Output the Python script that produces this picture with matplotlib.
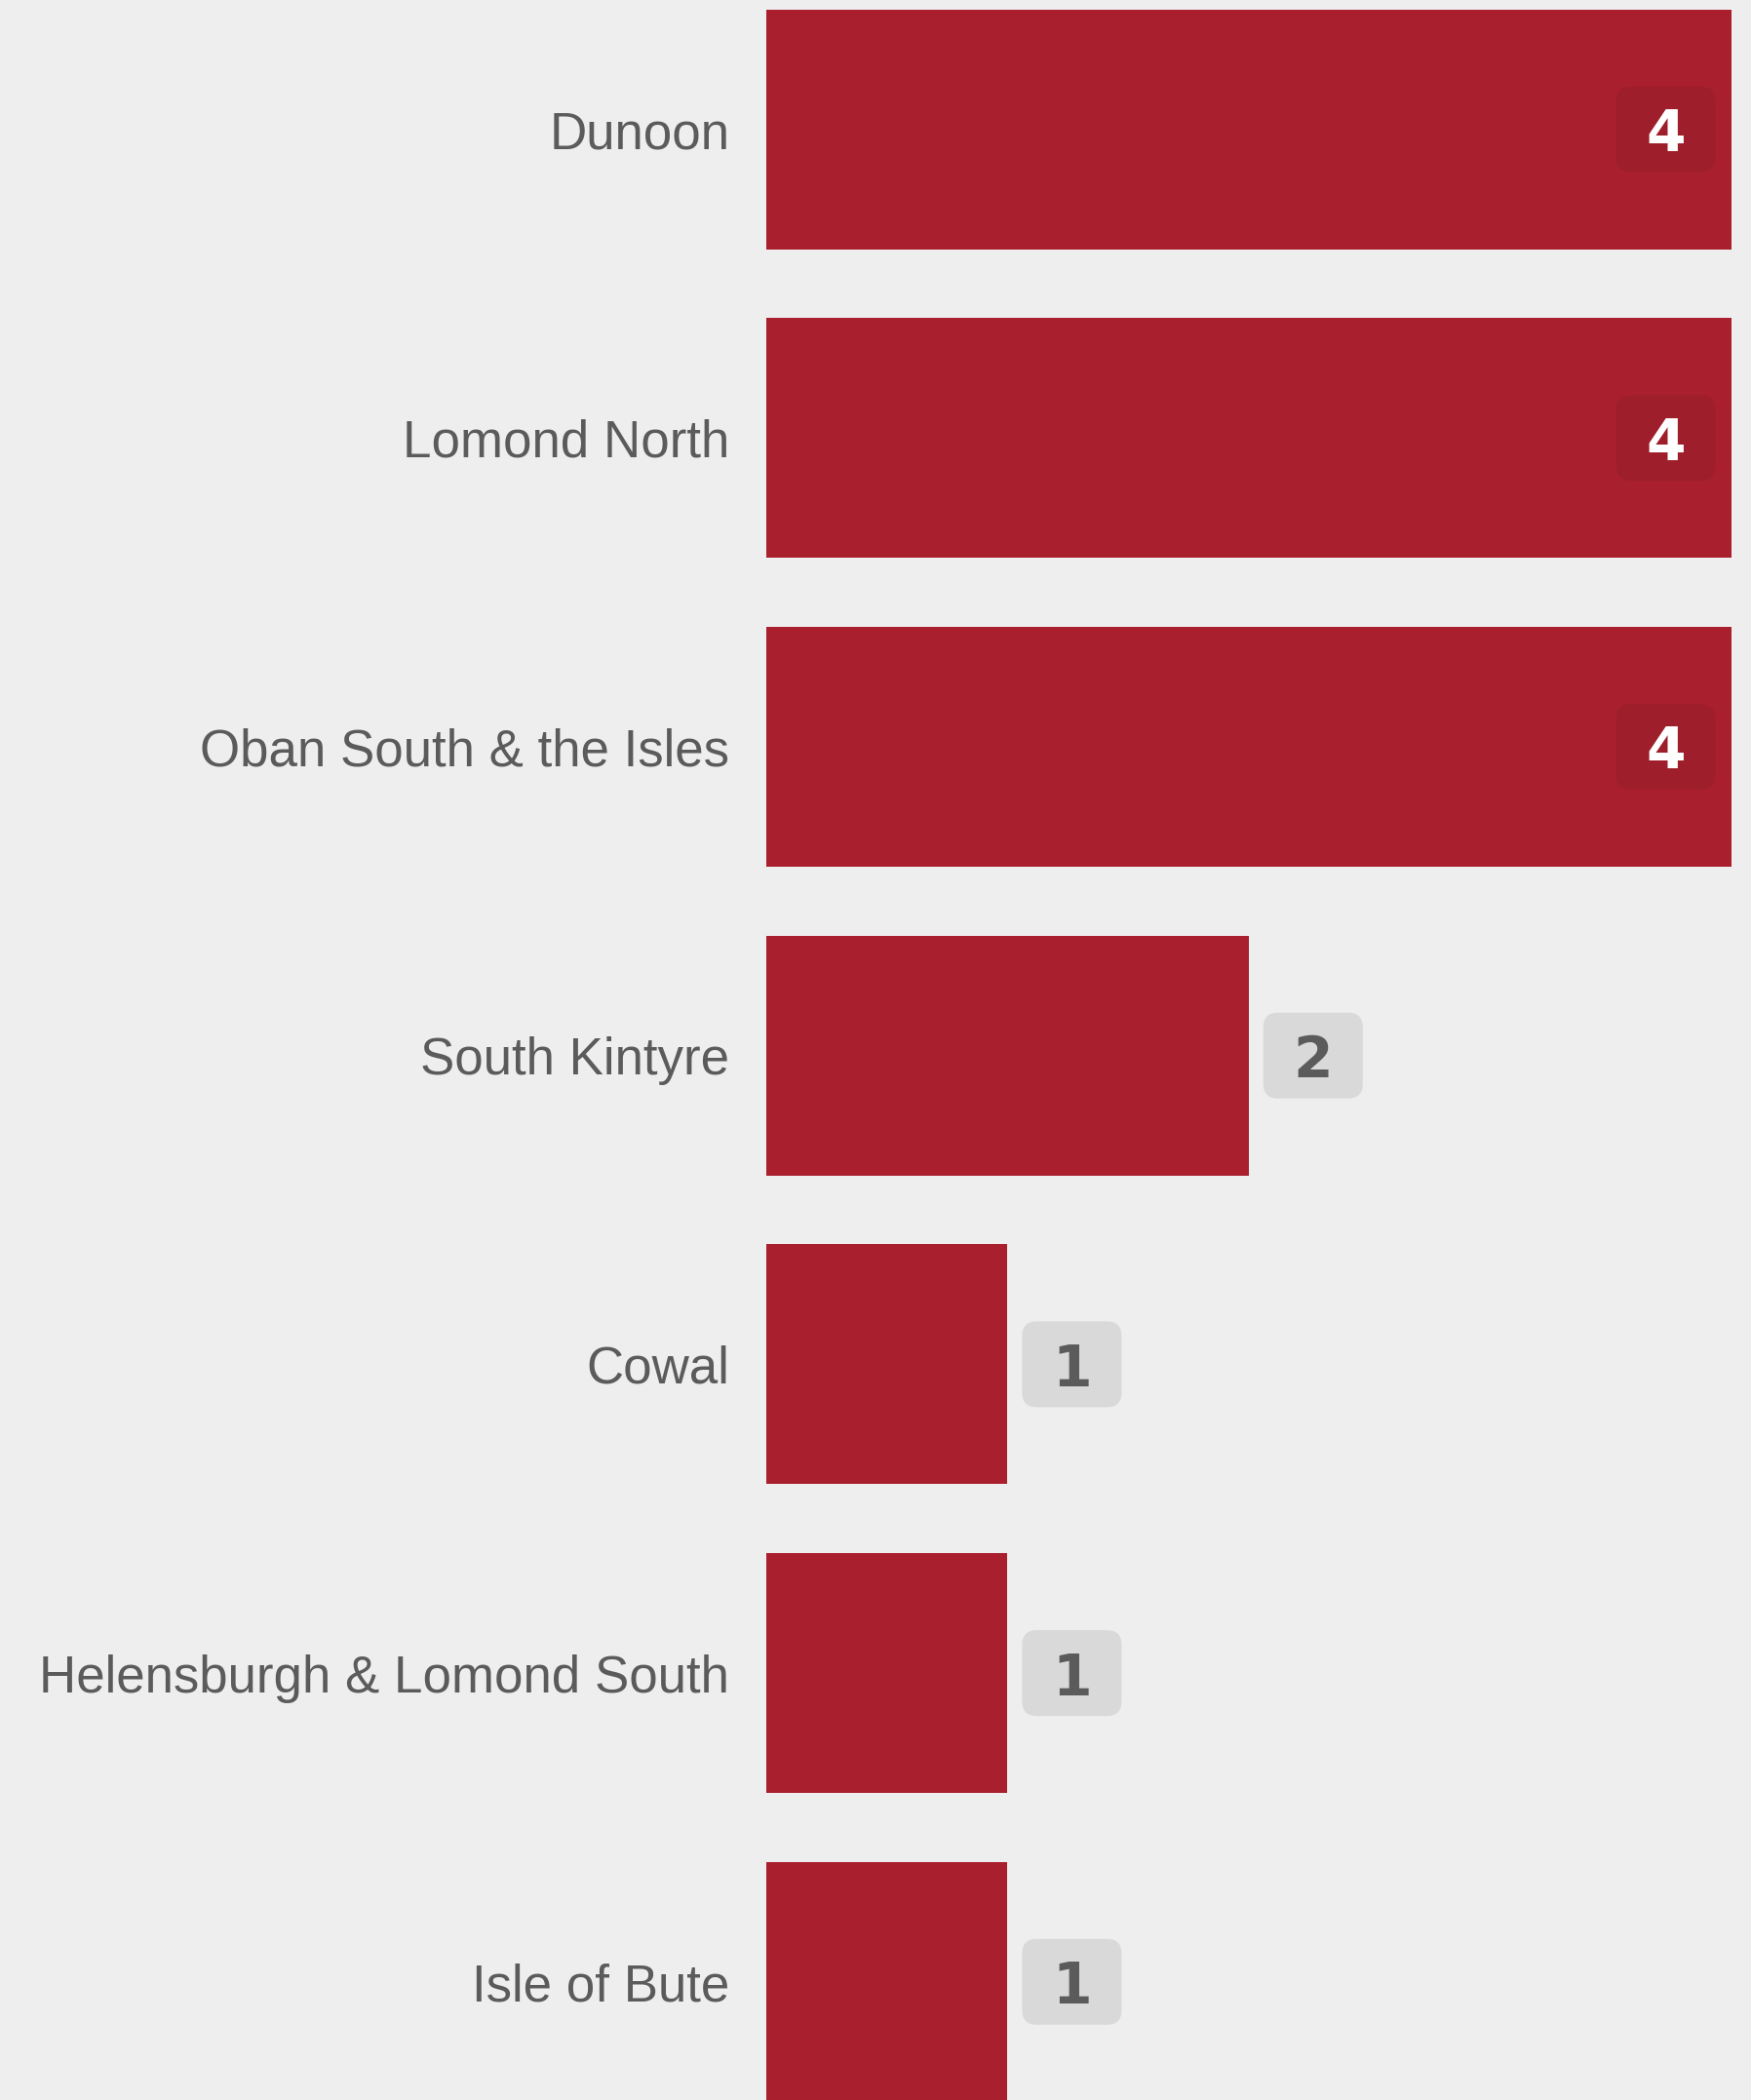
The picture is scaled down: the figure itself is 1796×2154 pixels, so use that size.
import numpy as np
import matplotlib.pyplot as plt
from matplotlib.patches import FancyBboxPatch

wards = ['Dunoon', 'Lomond North', 'Oban South & the Isles', 'South Kintyre',
         'Cowal', 'Helensburgh & Lomond South', 'Isle of Bute']
counts = [4, 4, 4, 2, 1, 1, 1]

BG = '#EEEEEE'
BAR = '#AA1F2E'
BOX_IN = '#9E1F2B'
BOX_OUT = '#D9D9D9'
GREY = '#5B5B5B'

DPI = 100
W, H = 1796, 2154
fig = plt.figure(figsize=(W / DPI, H / DPI), dpi=DPI, facecolor=BG)
ax = fig.add_axes([0, 0, 1, 1])
ax.set_facecolor(BG)

# pixel geometry of the layout
x0_px = 786.0      # where value 0 sits
unit_px = 247.4    # px per unit of value
pitch_px = 316.7   # px between bar centers
first_px = 132.6   # center of first bar from top

ax.set_xlim(-x0_px / unit_px, (W - x0_px) / unit_px)
ax.set_ylim((H - first_px) / pitch_px, -first_px / pitch_px)
ax.axis('off')

y = np.arange(len(wards))
ax.barh(y, counts, height=0.777, color=BAR, linewidth=0)

for i, (name, v) in enumerate(zip(wards, counts)):
    ax.annotate(name, xy=(0, i), xytext=(-27.2, 0), textcoords='offset points',
                ha='right', va='center_baseline', fontsize=38.1,
                family='Liberation Sans', color=GREY)

    bw = 102 / unit_px
    bh = 88 / pitch_px
    r = 15 / unit_px
    if v >= 3:
        cx = v - 67 / unit_px
        fc, tc = BOX_IN, 'white'
    else:
        cx = v + 66 / unit_px
        fc, tc = BOX_OUT, GREY
    box = FancyBboxPatch((cx - bw / 2, i - bh / 2), bw, bh,
                         boxstyle='round,pad=0,rounding_size=%f' % r,
                         mutation_aspect=unit_px / pitch_px,
                         fc=fc, ec='none')
    ax.add_patch(box)
    ax.text(cx, i, str(v), ha='center', va='center_baseline', fontsize=42,
            fontweight='heavy', family='DejaVu Sans', color=tc)

fig.savefig('out.png', dpi=DPI, facecolor=BG)
